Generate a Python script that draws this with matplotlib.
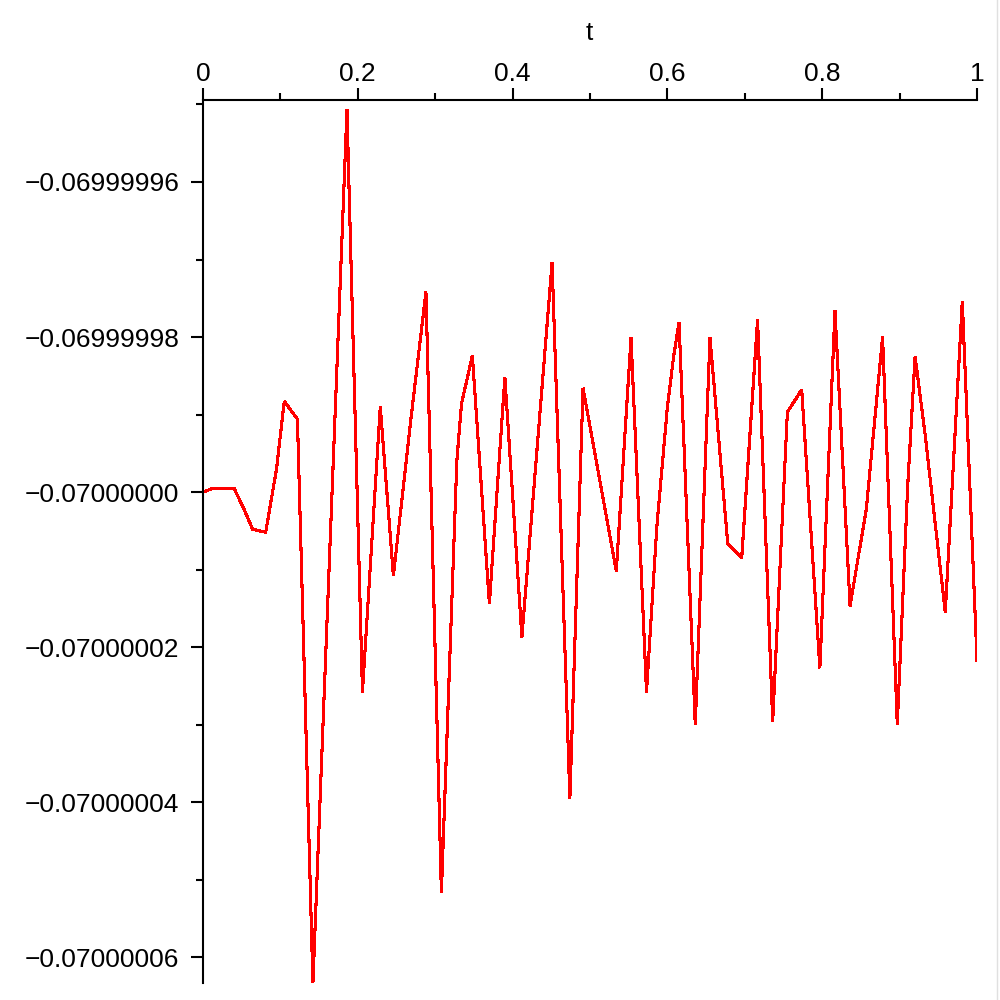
import matplotlib
matplotlib.use("Agg")
import matplotlib.pyplot as plt
from matplotlib.ticker import MultipleLocator, FixedLocator
from matplotlib.lines import Line2D

# ---- data (t, offset from -0.07 in units of 1e-8) ----
t_vals = [0.000, 0.011, 0.040, 0.052, 0.064, 0.081, 0.095, 0.105, 0.122, 0.142,
          0.186, 0.206, 0.229, 0.246, 0.268, 0.288, 0.308, 0.328, 0.334, 0.348,
          0.370, 0.390, 0.412, 0.451, 0.474, 0.491, 0.534, 0.553, 0.573, 0.5864,
          0.600, 0.6078, 0.615, 0.636, 0.655, 0.678, 0.696, 0.7165, 0.736, 0.755,
          0.7735, 0.797, 0.8165, 0.836, 0.857, 0.878, 0.897, 0.9104, 0.920, 0.933,
          0.959, 0.981, 1.000]
offset_1e8 = [0.00, 0.04, 0.05, -0.20, -0.48, -0.52, 0.30, 1.17, 0.94, -6.34,
              4.93, -2.58, 1.10, -1.08, 0.89, 2.58, -5.17, 0.41, 1.14, 1.76,
              -1.44, 1.48, -1.87, 2.96, -3.95, 1.34, -1.02, 1.99, -2.58, -0.44,
              1.10, 1.73, 2.19, -3.00, 1.99, -0.67, -0.85, 2.22, -2.96, 1.03,
              1.32, -2.27, 2.34, -1.47, -0.22, 2.00, -3.00, 0.07, 1.75, 0.74,
              -1.55, 2.46, -2.17]
base_value = -0.07
y_vals = [base_value + o * 1e-8 for o in offset_1e8]

y_tick_values = [-0.06999996, -0.06999998, -0.07000000, -0.07000002, -0.07000004, -0.07000006]
y_tick_labels = ["\u22120.06999996", "\u22120.06999998", "\u22120.07000000",
                 "\u22120.07000002", "\u22120.07000004", "\u22120.07000006"]
x_tick_values = [0, 0.2, 0.4, 0.6, 0.8, 1.0]
x_tick_labels = ["0", "0.2", "0.4", "0.6", "0.8", "1"]

plt.rcParams['font.family'] = ['Liberation Sans', 'DejaVu Sans']

fig = plt.figure(figsize=(10, 10), dpi=100)
ax = fig.add_axes([0.203, 0.017, 0.774, 0.883])

ax.plot(t_vals, y_vals, color='#ff0000', linewidth=1.5, antialiased=False,
        solid_joinstyle='miter')

ax.set_xlim(0, 1)
ax.set_ylim(base_value - 6.335e-8, base_value + 5.058e-8)

for s in ['bottom', 'right']:
    ax.spines[s].set_visible(False)
for s in ['top', 'left']:
    ax.spines[s].set_linewidth(1.5)
    ax.spines[s].set_color('black')

ax.xaxis.set_ticks_position('top')
ax.xaxis.set_label_position('top')
ax.set_xticks(x_tick_values)
ax.set_xticklabels(x_tick_labels)
ax.xaxis.set_minor_locator(MultipleLocator(0.1))

ax.yaxis.set_major_locator(FixedLocator(y_tick_values))
ax.set_yticklabels(y_tick_labels)
minor_y = [base_value + k * 1e-8 for k in (5, 3, 1, -1, -3, -5)]
ax.yaxis.set_minor_locator(FixedLocator(minor_y))

ax.tick_params(axis='both', which='major', direction='out', length=9, width=1.5,
               labelsize=19, color='black')
ax.tick_params(axis='both', which='minor', direction='out', length=5, width=1.5,
               color='black')
ax.tick_params(axis='x', which='major', pad=1)
ax.tick_params(axis='y', which='major', pad=8)

fig.text(0.589, 0.967, 't', ha='center', va='center', fontsize=19)

fig.add_artist(Line2D([0.997, 0.997], [0, 1], transform=fig.transFigure,
                      color='#e0e0e0', linewidth=1))

fig.savefig('out.png', dpi=100, facecolor='white')
